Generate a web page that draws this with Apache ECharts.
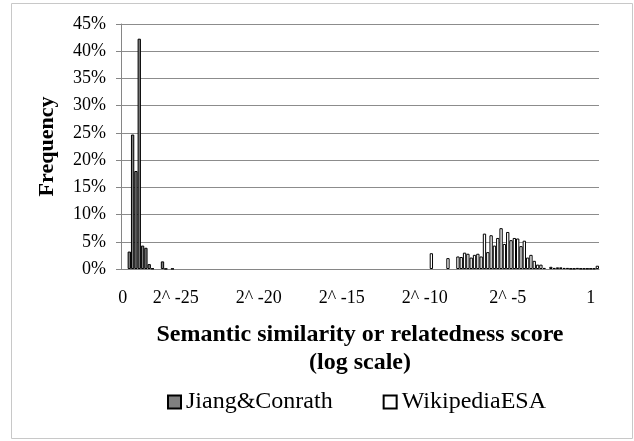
<!DOCTYPE html>
<html>
<head>
<meta charset="utf-8">
<script src="https://cdn.jsdelivr.net/npm/echarts@6/dist/echarts.min.js"></script>
<style>
  html, body { margin: 0; padding: 0; background: #fff; }
  #chart { width: 634px; height: 441px; }
</style>
</head>
<body>
<div id="chart"></div>
<script>
// Histogram bins along a log2 axis (5 bins per power of two), 144 bins in total
const binCount = 144;

// Tick labels and the bins they sit under
const tickBins = [0, 16, 41, 66, 91, 116, 141];
const tickLabels = ['0', '2^ -25', '2^ -20', '2^ -15', '2^ -10', '2^ -5', '1'];

// Jiang&Conrath: occupied bins and their frequencies (%)
const jiangBins = [2, 3, 4, 5, 6, 7, 8, 9, 12, 13, 15];
const jiangPct  = [3.2, 24.7, 18.0, 42.3, 4.3, 3.9, 0.9, 0.1, 1.4, 0.05, 0.05];

// WikipediaESA: occupied bins and their frequencies (%)
const wikiBins = [93, 98, 101, 102, 103, 104, 105, 106, 107, 108, 109, 110, 111, 112, 113, 114,
                  115, 116, 117, 118, 119, 120, 121, 122, 123, 124, 125, 126, 127, 129, 130,
                  131, 132, 133, 134, 135, 136, 137, 138, 139, 140, 141, 142, 143];
const wikiPct  = [2.9, 2.0, 2.3, 2.2, 3.0, 2.8, 2.1, 2.6, 2.8, 2.3, 6.5, 3.1, 6.2, 4.3, 5.7, 7.5,
                  4.6, 6.8, 5.3, 5.7, 5.6, 4.2, 5.2, 2.1, 2.6, 1.5, 0.8, 0.8, 0.2, 0.4, 0.2,
                  0.3, 0.3, 0.2, 0.2, 0.1, 0.1, 0.2, 0.1, 0.1, 0.1, 0.1, 0.1, 0.6];

// Y axis ticks
const yMin = 0, yMax = 45, yStep = 5;

// Build the category list and dense series arrays from the sparse lists
const categories = [];
for (let i = 0; i < binCount; i++) {
  const t = tickBins.indexOf(i);
  categories.push(t >= 0 ? tickLabels[t] : '');
}
function dense(bins, vals) {
  const out = new Array(binCount).fill(null);
  bins.forEach((b, k) => { out[b] = vals[k]; });
  return out;
}
const jiangData = dense(jiangBins, jiangPct);
const wikiData = dense(wikiBins, wikiPct);

const serif = '"Liberation Serif", "Times New Roman", serif';
const chart = echarts.init(document.getElementById('chart'), null, { renderer: 'canvas' });

chart.setOption({
  animation: false,
  backgroundColor: '#fff',
  grid: { left: 121, right: 35, top: 24, bottom: 172, containLabel: false },
  graphic: [{
    type: 'rect',
    shape: { x: 11.5, y: 3.5, width: 621, height: 435 },
    style: { fill: 'none', stroke: '#c8c8c8', lineWidth: 1 },
    silent: true
  }],
  legend: {
    bottom: 22,
    left: 162,
    icon: 'rect',
    itemWidth: 13,
    itemHeight: 13,
    itemGap: 50,
    textStyle: { fontFamily: serif, fontSize: 24, color: '#000' },
    data: ['Jiang&Conrath', 'WikipediaESA']
  },
  xAxis: {
    type: 'category',
    data: categories,
    name: 'Semantic similarity or relatedness score\n(log scale)',
    nameLocation: 'middle',
    nameGap: 52,
    nameTextStyle: { fontFamily: serif, fontSize: 24, fontWeight: 'bold', color: '#000', lineHeight: 28 },
    axisLine: { lineStyle: { color: '#868686', width: 1 } },
    axisTick: { show: false },
    axisLabel: {
      interval: (idx) => tickBins.indexOf(idx) >= 0,
      fontFamily: serif, fontSize: 18, color: '#000', margin: 20
    },
    splitLine: { show: false }
  },
  yAxis: {
    type: 'value',
    min: yMin, max: yMax, interval: yStep,
    name: 'Frequency',
    nameLocation: 'middle',
    nameGap: 63,
    nameTextStyle: { fontFamily: serif, fontSize: 22, fontWeight: 'bold', color: '#000' },
    axisLine: { show: true, lineStyle: { color: '#868686', width: 1 } },
    axisTick: { show: true, length: 5, lineStyle: { color: '#868686' } },
    axisLabel: { formatter: '{value}%', fontFamily: serif, fontSize: 18, color: '#000', margin: 15 },
    splitLine: { lineStyle: { color: '#8c8c8c', width: 1 } }
  },
  series: [
    {
      name: 'Jiang&Conrath',
      type: 'bar',
      data: jiangData,
      barGap: '-100%',
      barCategoryGap: '0%',
      itemStyle: { color: '#808080', borderColor: '#000', borderWidth: 1 }
    },
    {
      name: 'WikipediaESA',
      type: 'bar',
      data: wikiData,
      barGap: '-100%',
      barCategoryGap: '0%',
      itemStyle: { color: '#ffffff', borderColor: '#000', borderWidth: 1 }
    }
  ]
});
</script>
</body>
</html>
